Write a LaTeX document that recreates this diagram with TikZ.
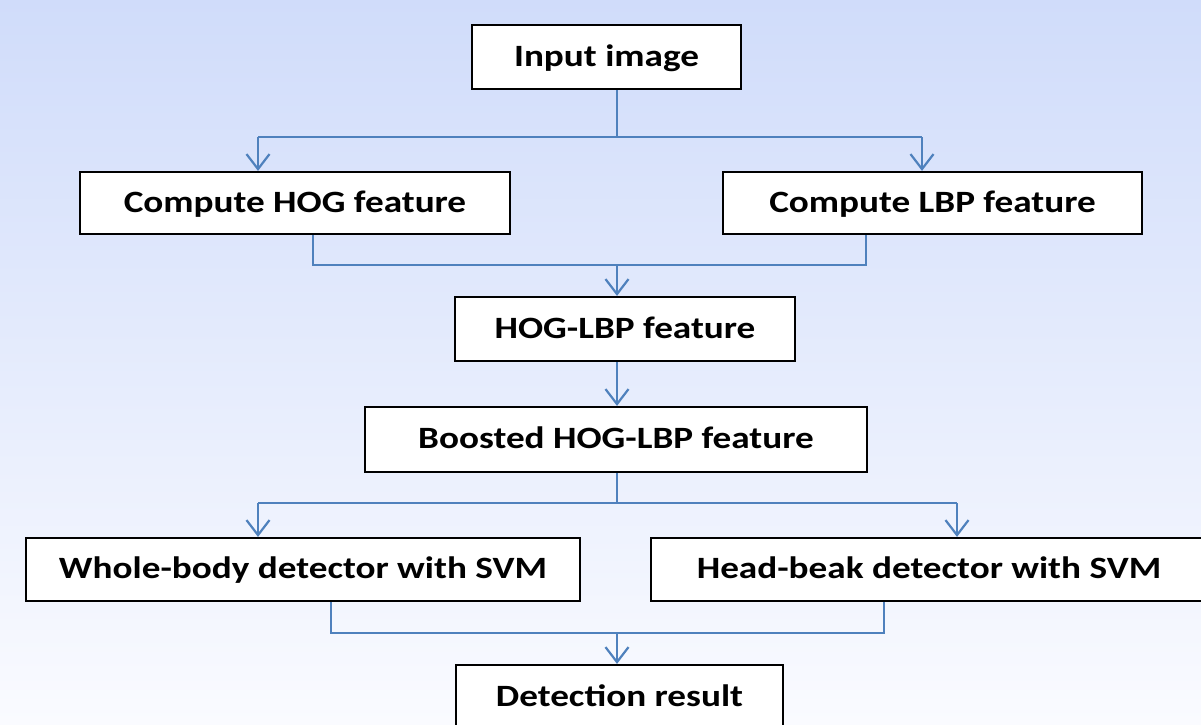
\documentclass[tikz,border=0pt]{standalone}
\usepackage{fontspec}
\setmainfont{Carlito}
\newfontfamily\boxfont{Carlito}[FakeStretch=1.2]
\usetikzlibrary{arrows.meta}
\definecolor{bgtop}{RGB}{208,220,250}
\definecolor{bgbot}{RGB}{250,251,255}
\definecolor{conn}{RGB}{79,129,189}
\tikzset{
  box/.style={draw=black, line width=2.2pt, fill=white, inner sep=0pt,
    text height=22pt, text depth=4pt,
    font=\boxfont\bfseries\fontsize{31}{36}\selectfont, text=black},
  link/.style={draw=conn, line width=2.2pt},
  arr/.style={link, -{Straight Barb[length=15pt,width=23pt,line width=2.2pt]}}
}
\begin{document}
\begin{tikzpicture}[x=1pt,y=-1pt]
\useasboundingbox (0,0) rectangle (1201,724);
\clip (0,0) rectangle (1201,724);
\shade[top color=bgtop, bottom color=bgbot] (0,0) rectangle (1201,724);

\node[box, minimum width=269pt, minimum height=64pt] (in) at (606.5,57) {Input image};
\node[box, minimum width=430pt, minimum height=62pt] (hog) at (295,203) {Compute HOG feature};
\node[box, minimum width=419pt, minimum height=62pt] (lbp) at (932.5,203) {Compute LBP feature};
\node[box, minimum width=340pt, minimum height=64pt] (hl) at (625,329) {HOG-LBP feature};
\node[box, minimum width=502pt, minimum height=65pt] (bh) at (616,439.5) {Boosted HOG-LBP feature};
\node[box, minimum width=554pt, minimum height=63pt] (wb) at (303,569.5) {Whole-body detector with SVM};
\node[box, minimum width=556pt, minimum height=63pt] (hb) at (929,569.5) {Head-beak detector with SVM};
\node[box, minimum width=327pt, minimum height=64pt] (det) at (619.5,697) {Detection result};

% junctions
\coordinate (c1) at (617,137);
\coordinate (c1l) at (258,137);
\coordinate (c1r) at (922,137);
\coordinate (c2) at (617,265);
\coordinate (c2l) at (313,265);
\coordinate (c2r) at (866,265);
\coordinate (c3) at (617,384);
\coordinate (c4) at (617,503);
\coordinate (c4l) at (258,503);
\coordinate (c4r) at (957,503);
\coordinate (c5) at (617,633);
\coordinate (c5l) at (331,633);
\coordinate (c5r) at (884,633);

\draw[link] (in.south -| c1) -- (c1);
\draw[link] (c1l) -- (c1r);
\draw[arr] (c1l) -- (hog.north -| c1l);
\draw[arr] (c1r) -- (lbp.north -| c1r);

\draw[link] (hog.south -| c2l) -- (c2l) -- (c2r) -- (lbp.south -| c2r);
\draw[arr] (c2) -- (hl.north -| c2);

\draw[arr] (hl.south -| c3) -- (bh.north -| c3);

\draw[link] (bh.south -| c4) -- (c4);
\draw[link] (c4l) -- (c4r);
\draw[arr] (c4l) -- (wb.north -| c4l);
\draw[arr] (c4r) -- (hb.north -| c4r);

\draw[link] (wb.south -| c5l) -- (c5l) -- (c5r) -- (hb.south -| c5r);
\draw[arr] (c5) -- (det.north -| c5);
\end{tikzpicture}
\end{document}
